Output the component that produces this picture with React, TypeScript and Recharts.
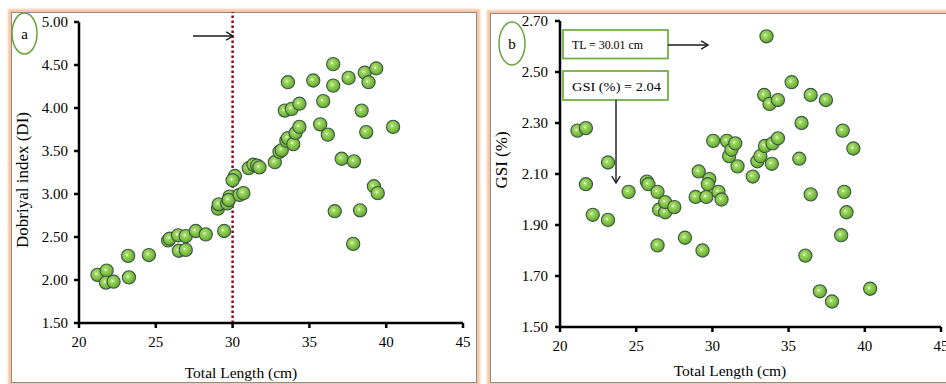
import React from "react";
import { ScatterChart, Scatter, XAxis, YAxis, ReferenceLine, Label } from "recharts";

// Panel (a): Total length (cm) vs Dobriyal index (DI)
const leftTL = [21.2, 21.8, 21.75, 22.25, 23.2, 23.25, 24.55, 25.8, 25.9, 26.45, 26.5, 26.95, 26.95, 27.6, 28.25, 29.05, 29.1, 29.45, 29.65, 29.8, 29.75, 30.15, 30.0, 30.45, 30.7, 31.05, 31.35, 31.6, 31.75, 32.75, 33.05, 33.2, 33.5, 33.6, 33.95, 34.1, 34.35, 33.4, 33.85, 34.35, 33.6, 35.25, 35.9, 35.7, 36.2, 36.55, 36.55, 37.55, 38.6, 38.85, 39.35, 38.4, 38.7, 40.45, 37.1, 37.9, 39.2, 39.45, 36.65, 38.3, 37.85];
const leftDI = [2.06, 2.11, 1.97, 1.98, 2.28, 2.03, 2.29, 2.46, 2.48, 2.52, 2.34, 2.51, 2.35, 2.57, 2.53, 2.83, 2.88, 2.57, 2.89, 2.97, 2.93, 3.21, 3.16, 2.99, 3.01, 3.3, 3.34, 3.33, 3.31, 3.37, 3.49, 3.51, 3.62, 3.65, 3.58, 3.71, 3.78, 3.97, 3.99, 4.05, 4.3, 4.32, 4.08, 3.81, 3.69, 4.51, 4.26, 4.35, 4.41, 4.3, 4.46, 3.97, 3.72, 3.78, 3.41, 3.38, 3.09, 3.01, 2.8, 2.81, 2.42];

// Panel (b): Total length (cm) vs GSI (%)
const rightTL = [21.15, 21.7, 21.7, 22.15, 23.15, 23.15, 24.5, 25.7, 25.8, 26.4, 26.5, 26.9, 26.9, 27.5, 26.4, 28.2, 29.1, 28.9, 29.6, 29.8, 29.7, 29.35, 30.05, 30.4, 30.6, 30.95, 31.1, 31.25, 31.5, 31.65, 32.65, 32.95, 33.15, 33.45, 33.9, 33.95, 34.3, 33.4, 33.75, 34.3, 33.55, 35.2, 35.85, 35.7, 36.45, 36.45, 36.1, 37.45, 38.55, 39.25, 38.65, 38.8, 38.45, 37.05, 37.85, 40.35];
const rightGSI = [2.27, 2.28, 2.06, 1.94, 2.145, 1.92, 2.03, 2.07, 2.06, 2.03, 1.96, 1.95, 1.99, 1.97, 1.82, 1.85, 2.11, 2.01, 2.01, 2.08, 2.06, 1.8, 2.23, 2.03, 2.0, 2.23, 2.17, 2.195, 2.22, 2.13, 2.09, 2.15, 2.17, 2.21, 2.14, 2.22, 2.24, 2.41, 2.375, 2.39, 2.64, 2.46, 2.3, 2.16, 2.41, 2.02, 1.78, 2.39, 2.27, 2.2, 2.03, 1.95, 1.86, 1.64, 1.6, 1.65];

const xTicks = [20, 25, 30, 35, 40, 45];
const diTicks = [1.5, 2.0, 2.5, 3.0, 3.5, 4.0, 4.5, 5.0];
const gsiTicks = [1.5, 1.7, 1.9, 2.1, 2.3, 2.5, 2.7];

const maturityTL = 30;

const leftData = leftTL.map((tl, i) => ({ tl, v: leftDI[i] }));
const rightData = rightTL.map((tl, i) => ({ tl, v: rightGSI[i] }));

const FONT = "'Liberation Serif', 'DejaVu Serif', serif";
const tickStyle = { fill: "#000", fontSize: 15, fontFamily: FONT };

const Pea = (props: any) => {
  const { cx, cy } = props;
  if (cx == null || cy == null) return null;
  return (
    <g>
      <circle cx={cx} cy={cy} r={6.6} fill="url(#peaGrad)" stroke="#3b5646" strokeWidth={1.1} />
      <circle cx={cx - 1.2} cy={cy - 0.8} r={1} fill="#f4ffe6" opacity={0.9} />
    </g>
  );
};

const panelStyle = (left: number, top: number, width: number, height: number): React.CSSProperties => ({
  position: "absolute",
  left,
  top,
  width,
  height,
  boxSizing: "border-box",
  border: "1px solid #8c8c8c",
  boxShadow: "0 0 2px 3px #f8c6a2",
  background: "#fff",
});

const Arrow = ({ x1, y1, x2, y2 }: { x1: number; y1: number; x2: number; y2: number }) => {
  const ang = Math.atan2(y2 - y1, x2 - x1);
  const L = 8;
  const w = 0.55;
  const ax = x2 - L * Math.cos(ang - w);
  const ay = y2 - L * Math.sin(ang - w);
  const bx = x2 - L * Math.cos(ang + w);
  const by = y2 - L * Math.sin(ang + w);
  return (
    <g stroke="#1a1a1a" strokeWidth={1.4} fill="none">
      <line x1={x1} y1={y1} x2={x2} y2={y2} />
      <polyline points={`${ax},${ay} ${x2},${y2} ${bx},${by}`} />
    </g>
  );
};

export default function App() {
  return (
    <div style={{ position: "absolute", left: 0, top: 0, width: 946, height: 384, overflow: "hidden", background: "#fff" }}>
      <svg width={0} height={0} style={{ position: "absolute" }}>
        <defs>
          <radialGradient id="peaGrad" cx="0.42" cy="0.4" r="0.65">
            <stop offset="0%" stopColor="#b9e37f" />
            <stop offset="55%" stopColor="#80c444" />
            <stop offset="100%" stopColor="#5c9b2c" />
          </radialGradient>
        </defs>
      </svg>

      <div style={panelStyle(11, 12, 466, 371)} />
      <div style={panelStyle(490, 13, 470, 370)} />

      <div style={{ position: "absolute", left: 11, top: 12 }}>
        <ScatterChart width={465} height={370} margin={{ top: 10, right: 13, left: 0, bottom: 0 }}>
          <XAxis
            type="number"
            dataKey="tl"
            domain={[20, 45]}
            ticks={xTicks}
            interval={0}
            height={59}
            tick={tickStyle}
            tickSize={5}
            tickMargin={8}
            axisLine={{ stroke: "#000", strokeWidth: 2.5 }}
            tickLine={{ stroke: "#000", strokeWidth: 2.5 }}
          >
            <Label
              content={() => (
                <text x={230} y={360} textAnchor="middle" dominantBaseline="central" fontFamily={FONT} fontSize={15.5} fill="#000">
                  Total Length (cm)
                </text>
              )}
            />
          </XAxis>
          <YAxis
            type="number"
            dataKey="v"
            domain={[1.5, 5.0]}
            ticks={diTicks}
            interval={0}
            width={68}
            tick={tickStyle}
            tickFormatter={(v: number) => v.toFixed(2)}
            tickSize={5}
            tickMargin={6}
            axisLine={{ stroke: "#000", strokeWidth: 2.5 }}
            tickLine={{ stroke: "#000", strokeWidth: 2.5 }}
          >
            <Label
              content={() => (
                <text x={11} y={168} transform="rotate(-90 11 168)" textAnchor="middle" dominantBaseline="central" fontFamily={FONT} fontSize={17} fill="#000">
                  Dobriyal index (DI)
                </text>
              )}
            />
          </YAxis>
          <ReferenceLine
            segment={[{ x: maturityTL, y: 1.5 }, { x: maturityTL, y: 5.12 }]}
            ifOverflow="visible"
            stroke="#8b0a1a"
            strokeWidth={2.5}
            strokeDasharray="2.5 2.5"
          />
          <Scatter data={leftData} shape={Pea} isAnimationActive={false} />
        </ScatterChart>
      </div>

      <div style={{ position: "absolute", left: 490, top: 13 }}>
        <ScatterChart width={456} height={369} margin={{ top: 8, right: 5, left: 0, bottom: 0 }}>
          <XAxis
            type="number"
            dataKey="tl"
            domain={[20, 45]}
            ticks={xTicks}
            interval={0}
            height={55}
            tick={tickStyle}
            tickSize={5}
            tickMargin={8}
            axisLine={{ stroke: "#000", strokeWidth: 2.5 }}
            tickLine={{ stroke: "#000", strokeWidth: 2.5 }}
          >
            <Label
              content={() => (
                <text x={240} y={357} textAnchor="middle" dominantBaseline="central" fontFamily={FONT} fontSize={15.5} fill="#000">
                  Total Length (cm)
                </text>
              )}
            />
          </XAxis>
          <YAxis
            type="number"
            dataKey="v"
            domain={[1.5, 2.7]}
            ticks={gsiTicks}
            interval={0}
            width={70}
            tick={tickStyle}
            tickFormatter={(v: number) => v.toFixed(2)}
            tickSize={5}
            tickMargin={7}
            axisLine={{ stroke: "#000", strokeWidth: 2.5 }}
            tickLine={{ stroke: "#000", strokeWidth: 2.5 }}
          >
            <Label
              content={() => (
                <text x={11} y={147} transform="rotate(-90 11 147)" textAnchor="middle" dominantBaseline="central" fontFamily={FONT} fontSize={17} fill="#000">
                  GSI (%)
                </text>
              )}
            />
          </YAxis>
          <Scatter data={rightData} shape={Pea} isAnimationActive={false} />
        </ScatterChart>
      </div>

      <svg width={946} height={384} style={{ position: "absolute", left: 0, top: 0, pointerEvents: "none" }}>
        <ellipse cx={24.5} cy={33.5} rx={12.5} ry={20.5} fill="none" stroke="#6aa33c" strokeWidth={1.5} />
        <text x={24.5} y={34} textAnchor="middle" dominantBaseline="central" fontFamily={FONT} fontSize={15} fill="#000">a</text>
        <Arrow x1={193} y1={36} x2={233} y2={36} />

        <ellipse cx={512} cy={43.5} rx={13} ry={21.5} fill="none" stroke="#6aa33c" strokeWidth={1.5} />
        <text x={512} y={44} textAnchor="middle" dominantBaseline="central" fontFamily={FONT} fontSize={15} fill="#000">b</text>

        <rect x={563} y={30} width={105} height={28.5} fill="#fff" stroke="#72b043" strokeWidth={1.8} />
        <text x={572} y={49} fontFamily={FONT} fontSize={13} fill="#000" textLength={71} lengthAdjust="spacingAndGlyphs">TL = 30.01 cm</text>
        <Arrow x1={668} y1={45} x2={708} y2={45} />

        <rect x={563} y={71} width={105} height={29} fill="#fff" stroke="#72b043" strokeWidth={1.8} />
        <text x={572} y={91} fontFamily={FONT} fontSize={13} fill="#000" textLength={89} lengthAdjust="spacingAndGlyphs">GSI (%) = 2.04</text>
        <Arrow x1={616} y1={100} x2={616} y2={183} />
      </svg>
    </div>
  );
}
